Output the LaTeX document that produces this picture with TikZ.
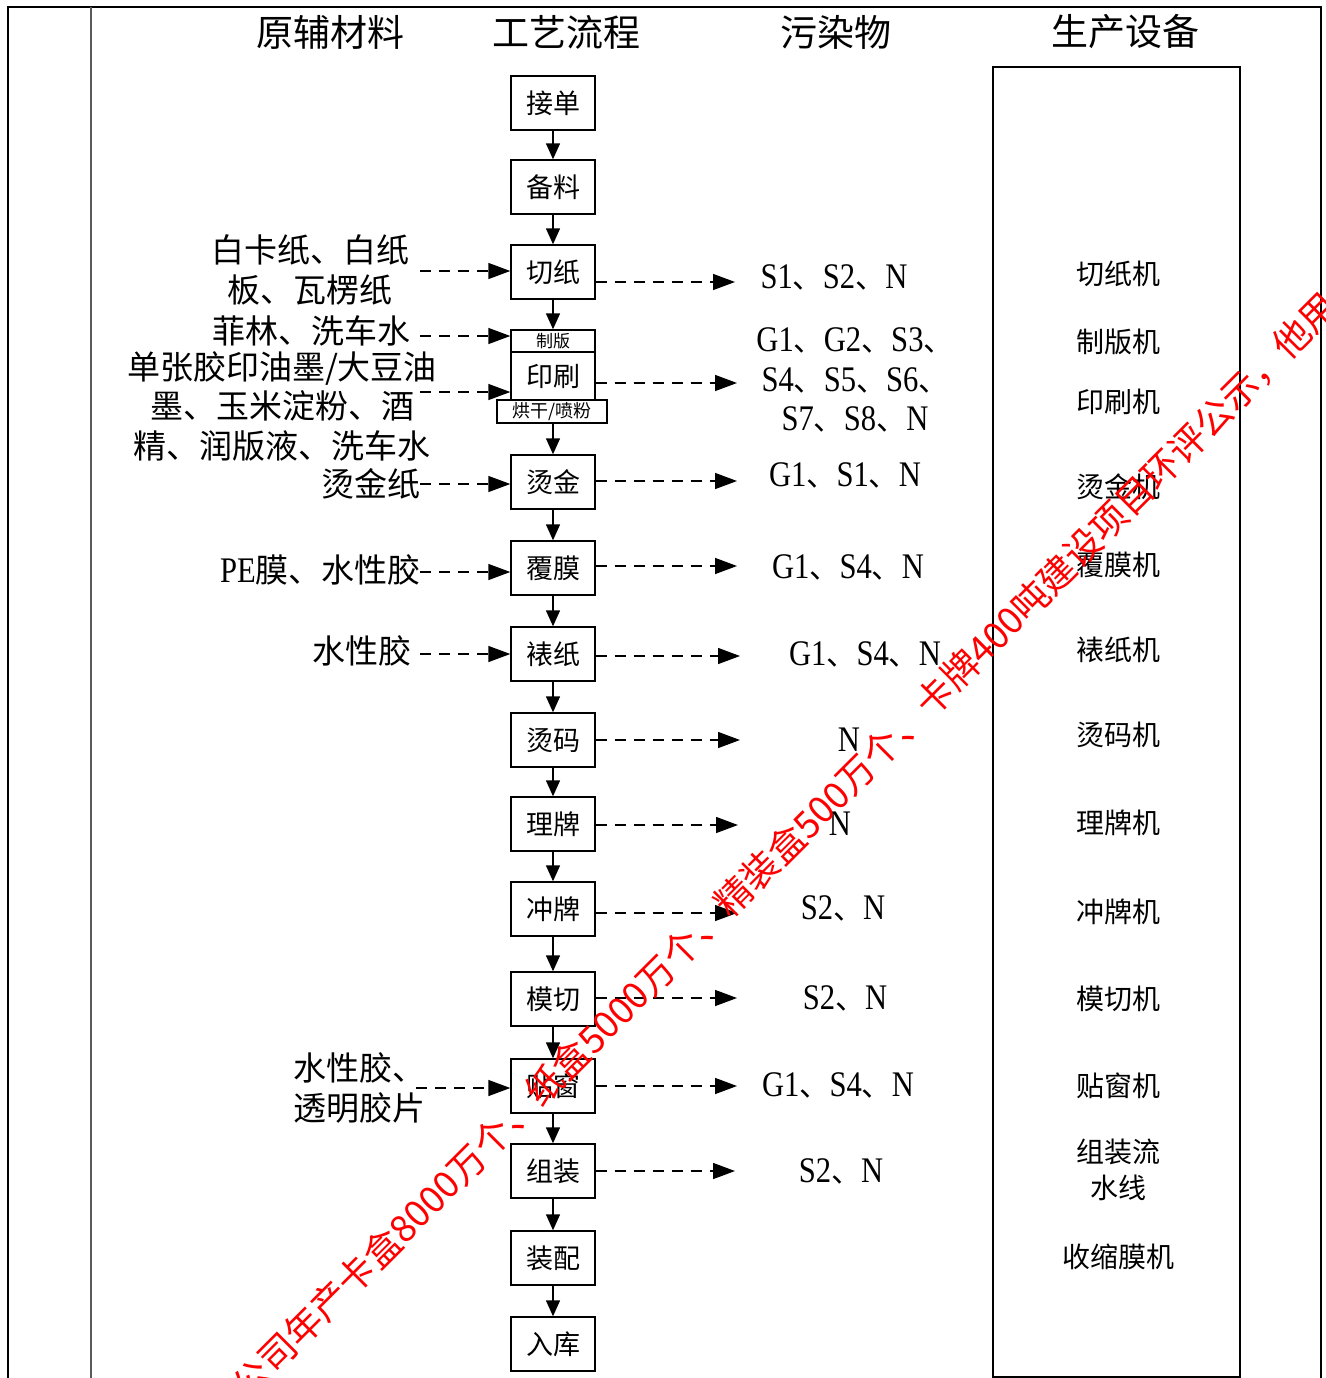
\documentclass[tikz,border=0pt]{standalone}
\usepackage{fontspec}
\setmainfont{Noto Sans CJK SC}
\newfontfamily\lat[FakeStretch=0.85]{Liberation Serif}
\usetikzlibrary{arrows.meta}
\newcommand\myfs[1]{\fontsize{#1}{#1}\selectfont}
\newcommand\pl[1]{{\lat\fontsize{36}{36}\selectfont #1}}
\begin{document}
\begin{tikzpicture}[x=1pt,y=-1pt,
  every node/.style={inner sep=0pt},
  pbox/.style={draw, line width=1.4pt, minimum width=84pt, minimum height=54pt, font=\myfs{27}},
  flow/.style={-{Triangle[length=16pt,width=14pt]}, line width=1.4pt},
  dflow/.style={-{Triangle[length=22pt,width=16pt]}, line width=1.4pt, dash pattern=on 11pt off 8pt},
  head/.style={font=\myfs{37}},
  inp/.style={font=\fontsize{33}{39.5}\selectfont, align=center},
  outp/.style={font=\fontsize{30}{39.5}\selectfont, align=center},
  equip/.style={font=\fontsize{28}{36}\selectfont, align=center},
  wm/.style={text=red, font=\myfs{37}}]
\useasboundingbox (0,0) rectangle (1325,1378);
\fill[white] (0,0) rectangle (1325,1378);
\clip (0,0) rectangle (1325,1378);
% frame
\draw[line width=2.8pt] (8,1380) -- (8,7) -- (1321,7) -- (1321,1380);
\draw[line width=1.8pt, black!65] (91,7) -- (91,1380);
% headers
\node[head] (h1) at (330,32) {原辅材料};
\node[head] (h2) at (566,32) {工艺流程};
\node[head] (h3) at (836,32) {污染物};
\node[head] (h4) at (1125,32) {生产设备};
% equipment box
\draw[line width=1.4pt] (993,67) rectangle (1240,1377);
% process boxes
\node[pbox] (jd) at (553,103) {接单};
\node[pbox] (bl) at (553,187) {备料};
\node[pbox] (qz) at (553,272) {切纸};
\node[pbox, minimum height=22pt, font=\myfs{17}] (zb) at (553,341) {制版};
\node[pbox, minimum height=48pt] (ys) at (553,376) {印刷};
\node[pbox, minimum height=23pt, minimum width=110pt, font=\myfs{18}] (hg) at (552,411.5) {烘干/喷粉};
\node[pbox] (tj) at (553,482) {烫金};
\node[pbox] (fm) at (553,568) {覆膜};
\node[pbox] (bz) at (553,654) {裱纸};
\node[pbox] (tm) at (553,740) {烫码};
\node[pbox] (lp) at (553,824) {理牌};
\node[pbox] (cp) at (553,909) {冲牌};
\node[pbox] (mq) at (553,999) {模切};
\node[pbox] (tc) at (553,1086) {贴窗};
\node[pbox] (zz) at (553,1171) {组装};
\node[pbox] (zp) at (553,1258) {装配};
\node[pbox] (rk) at (553,1344) {入库};
% vertical flow
\draw[flow] (jd) -- (bl);
\draw[flow] (bl) -- (qz);
\draw[flow] (qz) -- (zb);
\draw[flow] (hg.south -| tj.north) -- (tj);
\draw[flow] (tj) -- (fm);
\draw[flow] (fm) -- (bz);
\draw[flow] (bz) -- (tm);
\draw[flow] (tm) -- (lp);
\draw[flow] (lp) -- (cp);
\draw[flow] (cp) -- (mq);
\draw[flow] (mq) -- (tc);
\draw[flow] (tc) -- (zz);
\draw[flow] (zz) -- (zp);
\draw[flow] (zp) -- (rk);
% inputs
\node[inp] (t1) at (310,270) {白卡纸、白纸\\板、瓦楞纸};
\node[inp, anchor=east] (t2) at (411,331) {菲林、洗车水};
\node[inp] (t3) at (282,406) {单张胶印油墨/大豆油\\墨、玉米淀粉、酒\\精、润版液、洗车水};
\node[inp, anchor=east] (t4) at (421,484) {烫金纸};
\node[inp, anchor=east] (t5) at (421,570) {{\lat\fontsize{36}{36}\selectfont PE}膜、水性胶};
\node[inp, anchor=east] (t6) at (412,651) {水性胶};
\node[inp, align=left, anchor=west] (t7) at (293,1088) {水性胶、\\透明胶片};
\coordinate (i1) at (420,271);
\coordinate (i2) at (420,336);
\coordinate (i3) at (420,392);
\coordinate (i4) at (420,484);
\coordinate (i5) at (420,572);
\coordinate (i6) at (420,654);
\coordinate (i7) at (416,1088);
\draw[dflow] (i1) -- (i1 -| qz.west);
\draw[dflow] (i2) -- (i2 -| zb.west);
\draw[dflow] (i3) -- (i3 -| ys.west);
\draw[dflow] (i4) -- (i4 -| tj.west);
\draw[dflow] (i5) -- (i5 -| fm.west);
\draw[dflow] (i6) -- (i6 -| bz.west);
\draw[dflow] (i7) -- (i7 -| tc.west);
% outputs
\coordinate (o1) at (735,282);
\coordinate (o2) at (737,383);
\coordinate (o3) at (737,481);
\coordinate (o4) at (737,566);
\coordinate (o5) at (740,656);
\coordinate (o6) at (740,740);
\coordinate (o7) at (738,825);
\coordinate (o8) at (737,913);
\coordinate (o9) at (737,998);
\coordinate (o10) at (737,1086);
\coordinate (o11) at (735,1171);
\draw[dflow] (o1 -| qz.east) -- (o1);
\draw[dflow] (o2 -| ys.east) -- (o2);
\draw[dflow] (o3 -| tj.east) -- (o3);
\draw[dflow] (o4 -| fm.east) -- (o4);
\draw[dflow] (o5 -| bz.east) -- (o5);
\draw[dflow] (o6 -| tm.east) -- (o6);
\draw[dflow] (o7 -| lp.east) -- (o7);
\draw[dflow] (o8 -| cp.east) -- (o8);
\draw[dflow] (o9 -| mq.east) -- (o9);
\draw[dflow] (o10 -| tc.east) -- (o10);
\draw[dflow] (o11 -| zz.east) -- (o11);
\node[outp] (p1) at (834,277) {\pl{S1}、\pl{S2}、\pl{N}};
\node[outp] (p2) at (855,380) {\pl{G1}、\pl{G2}、\pl{S3}、\\\pl{S4}、\pl{S5}、\pl{S6}、\\\pl{S7}、\pl{S8}、\pl{N}};
\node[outp] (p3) at (845,475) {\pl{G1}、\pl{S1}、\pl{N}};
\node[outp] (p4) at (848,567) {\pl{G1}、\pl{S4}、\pl{N}};
\node[outp] (p5) at (865,654) {\pl{G1}、\pl{S4}、\pl{N}};
\node[outp] (p6) at (849,740) {\pl{N}};
\node[outp] (p7) at (840,824) {\pl{N}};
\node[outp] (p8) at (843,908) {\pl{S2}、\pl{N}};
\node[outp] (p9) at (845,998) {\pl{S2}、\pl{N}};
\node[outp] (p10) at (838,1085) {\pl{G1}、\pl{S4}、\pl{N}};
\node[outp] (p11) at (841,1171) {\pl{S2}、\pl{N}};
% equipment
\node[equip] (e1) at (1118,274) {切纸机};
\node[equip] (e2) at (1118,342) {制版机};
\node[equip] (e3) at (1118,402) {印刷机};
\node[equip] (e4) at (1118,487) {烫金机};
\node[equip] (e5) at (1118,565) {覆膜机};
\node[equip] (e6) at (1118,650) {裱纸机};
\node[equip] (e7) at (1118,735) {烫码机};
\node[equip] (e8) at (1118,823) {理牌机};
\node[equip] (e9) at (1118,912) {冲牌机};
\node[equip] (e10) at (1118,999) {模切机};
\node[equip] (e11) at (1118,1086) {贴窗机};
\node[equip] (e12) at (1118,1170) {组装流\\水线};
\node[equip] (e13) at (1118,1257) {收缩膜机};
% watermark
\node[wm, rotate=45] (wmk) at (785,846) {公司年产卡盒8000万个、纸盒5000万个、精装盒500万个、卡牌400吨建设项目环评公示，他用};
\end{tikzpicture}
\end{document}
